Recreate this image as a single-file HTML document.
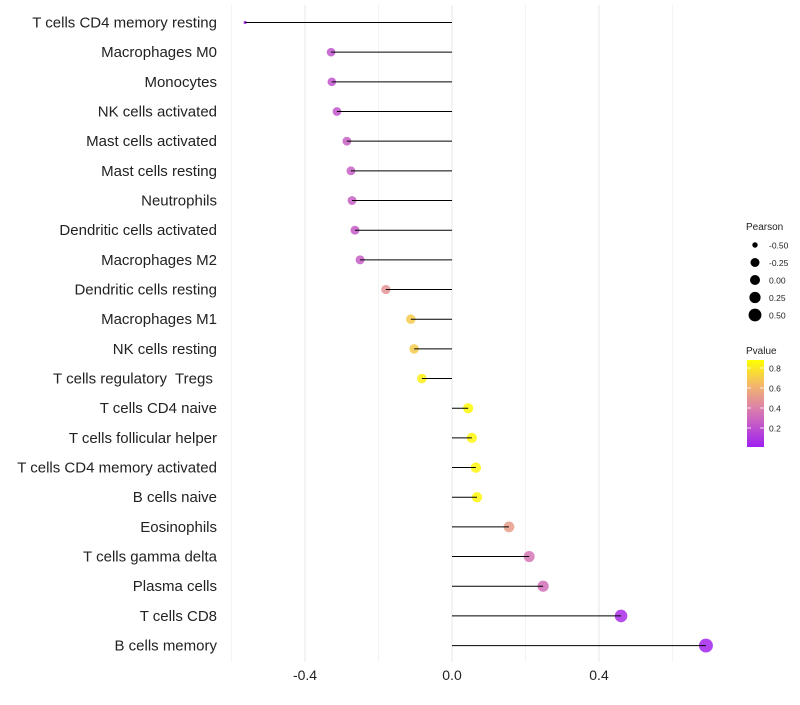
<!DOCTYPE html>
<html><head><meta charset="utf-8"><style>
body{margin:0;background:#fff;font-family:"Liberation Sans",sans-serif}
text{white-space:pre}
</style></head><body>
<svg id="c" width="800" height="700" xmlns="http://www.w3.org/2000/svg">
<defs><linearGradient id="g" x1="0" y1="1" x2="0" y2="0">
<stop offset="0" stop-color="rgb(160,32,240)"/><stop offset="0.45" stop-color="rgb(220,130,170)"/><stop offset="0.7" stop-color="rgb(242,180,110)"/><stop offset="1" stop-color="rgb(255,255,0)"/></linearGradient></defs>
</svg>
<script>
const categories=["T cells CD4 memory resting","Macrophages M0","Monocytes","NK cells activated","Mast cells activated","Mast cells resting","Neutrophils","Dendritic cells activated","Macrophages M2","Dendritic cells resting","Macrophages M1","NK cells resting","T cells regulatory  Tregs ","T cells CD4 naive","T cells follicular helper","T cells CD4 memory activated","B cells naive","Eosinophils","T cells gamma delta","Plasma cells","T cells CD8","B cells memory"];
const pearson=[-0.563,-0.329,-0.327,-0.313,-0.286,-0.275,-0.272,-0.264,-0.250,-0.180,-0.112,-0.103,-0.082,0.044,0.054,0.065,0.068,0.155,0.210,0.248,0.460,0.691];
const pvalue=[0.01,0.22,0.22,0.22,0.26,0.26,0.26,0.24,0.25,0.48,0.7,0.7,0.82,0.87,0.85,0.85,0.85,0.52,0.35,0.32,0.06,0.03];
const xTicks=[-0.4,0.0,0.4];
const xMinor=[-0.6,-0.2,0.2,0.6];
const sizeLegend=[-0.5,-0.25,0,0.25,0.5];
const pTicks=[0.8,0.6,0.4,0.2];
const svg=document.getElementById('c');const NS="http://www.w3.org/2000/svg";
function mk(t,a,p){const e=document.createElementNS(NS,t);for(const k in a)e.setAttribute(k,a[k]);(p||svg).appendChild(e);return e;}
const X=v=>452+v*367.5;
const Y=i=>22.5+i*29.67;
const rA=[[-0.6,1.3],[-0.563,1.6],[-0.5,2.7],[-0.33,4.3],[-0.25,4.5],[-0.1,4.8],[0,5.0],[0.25,5.6],[0.46,6.3],[0.7,7.0]];
function R(v){if(v<=rA[0][0])return rA[0][1];for(let i=1;i<rA.length;i++){if(v<=rA[i][0]){const a=rA[i-1],b=rA[i];return a[1]+(b[1]-a[1])*(v-a[0])/(b[0]-a[0]);}}return rA[rA.length-1][1];}
const cs=[[0,[160,32,240]],[0.45,[220,130,170]],[0.7,[242,180,110]],[1,[255,255,0]]];
function col(p){const t=Math.max(0,Math.min(1,(p-0.01)/0.87));for(let i=1;i<cs.length;i++){if(t<=cs[i][0]){const a=cs[i-1],b=cs[i],f=(t-a[0])/(b[0]-a[0]);return 'rgb('+[0,1,2].map(k=>Math.round(a[1][k]+(b[1][k]-a[1][k])*f)).join(',')+')';}}return 'rgb(255,255,0)';}
xMinor.forEach(v=>{const l=mk('line',{x1:X(v),x2:X(v),y1:5,y2:662,stroke:'#f3f3f3','stroke-width':1});

});
xTicks.forEach(v=>{const l=mk('line',{x1:X(v),x2:X(v),y1:5,y2:662,stroke:'#ebebeb','stroke-width':1.2});


const t=mk('text',{x:X(v),y:680,'text-anchor':'middle','font-size':14,fill:'#222'});t.textContent=v.toFixed(1);

});
categories.forEach((c,i)=>{const y=Y(i);
const t=mk('text',{x:217,y:y+5,'text-anchor':'end','font-size':15,fill:'#222'});t.textContent=c;


const d=mk('circle',{cx:X(pearson[i]),cy:y,r:R(pearson[i]),fill:col(pvalue[i]),'fill-opacity':0.85});


const l=mk('line',{x1:X(0),x2:X(pearson[i]),y1:y,y2:y,stroke:'#000','stroke-width':1});

});
let t=mk('text',{x:746,y:230,'font-size':10,fill:'#222'});t.textContent='Pearson';


sizeLegend.forEach((v,i)=>{const y=245+i*17.5;
const d=mk('circle',{cx:755,cy:y,r:R(v),fill:'#000'});


const tt=mk('text',{x:769,y:y+3.5,'font-size':8.5,fill:'#222'});tt.textContent=v.toFixed(2);

});
t=mk('text',{x:746,y:354,'font-size':10,fill:'#222'});t.textContent='Pvalue';


const bar=mk('rect',{x:747,y:360,width:17,height:87,fill:'url(#g)'});


pTicks.forEach(v=>{const y=447-(v-0.01)*100;
const tk=mk('line',{x1:747,x2:751,y1:y,y2:y,stroke:'#fff','stroke-width':0.8});


const tk2=mk('line',{x1:760,x2:764,y1:y,y2:y,stroke:'#fff','stroke-width':0.8});


const tt=mk('text',{x:769,y:y+3.5,'font-size':8.5,fill:'#222'});tt.textContent=v.toFixed(1);

});
</script>
</body></html>
